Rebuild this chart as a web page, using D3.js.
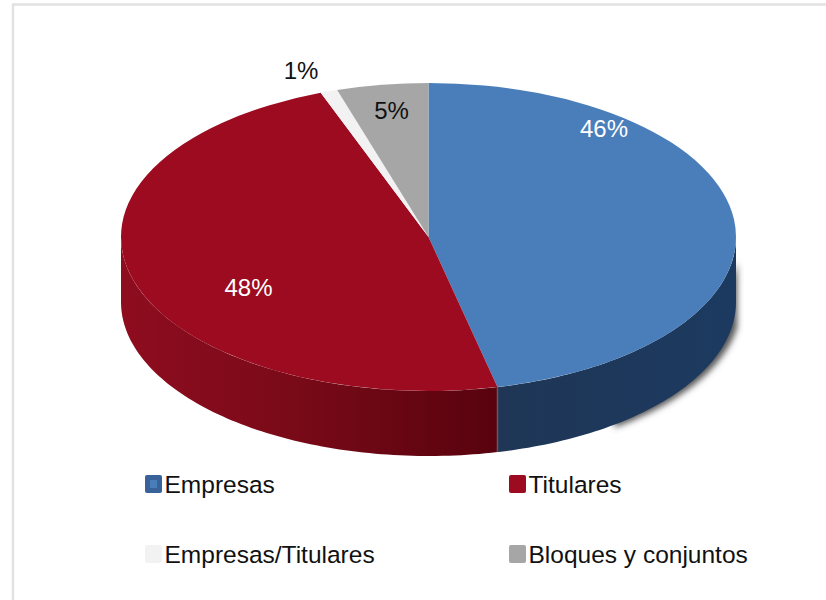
<!DOCTYPE html>
<html>
<head>
<meta charset="utf-8">
<script src="https://cdn.jsdelivr.net/npm/d3@7"></script>
<style>
  html, body { margin: 0; padding: 0; background: #fff; }
  text { font-family: "Liberation Sans", Arial, sans-serif; }
</style>
</head>
<body>
<div id="chart"></div>
<script>
const categories = ["Empresas", "Titulares", "Empresas/Titulares", "Bloques y conjuntos"];
const values = [46.4, 47.9, 0.9, 4.8];
const valueLabels = ["46%", "48%", "1%", "5%"];
const topColors = ["#4a7ebb", "#9c0b20", "#f2f2f2", "#a6a6a6"];
const legendColors = ["#386299", "#9c0b20", "#f2f2f2", "#a6a6a6"];
const labelColors = ["#fff", "#fff", "#111", "#111"];

const width = 826;
const height = 600;
const cx = 428.5;
const cy = 237;
const rx = 307.5;
const ry = 154;
const depth = 65;

const svg = d3.select("#chart")
  .append("svg")
  .attr("width", width)
  .attr("height", height)
  .style("display", "block");

const defs = svg.append("defs");

defs.append("filter")
  .attr("id", "soft")
  .attr("x", "-5%").attr("y", "-5%")
  .attr("width", "110%").attr("height", "110%")
  .append("feGaussianBlur")
  .attr("stdDeviation", 3);

// side wall gradients, left to right
const redWall = defs.append("linearGradient").attr("id", "wall-1");
redWall.append("stop").attr("offset", "0%").attr("stop-color", "#8e0d1f");
redWall.append("stop").attr("offset", "45%").attr("stop-color", "#7a0a18");
redWall.append("stop").attr("offset", "100%").attr("stop-color", "#58030e");

const blueWall = defs.append("linearGradient").attr("id", "wall-0");
blueWall.append("stop").attr("offset", "0%").attr("stop-color", "#1f3656");
blueWall.append("stop").attr("offset", "100%").attr("stop-color", "#1c3a60");

// frame of the original picture
svg.append("path")
  .attr("d", `M13,${height}V4.5H${width}`)
  .attr("fill", "none")
  .attr("stroke", "#e2e2e2")
  .attr("stroke-width", 2.5);

const pie = d3.pie().sort(null).value(d => d);
const slices = pie(values);

const x = a => cx + rx * Math.sin(a);
const y = a => cy - ry * Math.cos(a);

function wallPath(a0, a1) {
  const start = Math.max(a0, Math.PI / 2);
  const end = Math.min(a1, Math.PI * 1.5);
  if (end <= start) return null;
  const steps = d3.range(start, end, 0.02).concat(end);
  const rim = steps.map(a => [x(a), y(a)]);
  const lower = steps.slice().reverse().map(a => [x(a), y(a) + depth]);
  return d3.line()(rim.concat(lower)) + "Z";
}

// soft shadow on the lower right edge
svg.append("path")
  .attr("d", wallPath(Math.PI * 0.55, Math.PI * 0.8))
  .attr("transform", "translate(5,1)")
  .attr("fill", "#555")
  .attr("filter", "url(#soft)");

svg.append("g")
  .selectAll("path")
  .data(slices.filter(d => wallPath(d.startAngle, d.endAngle)))
  .enter()
  .append("path")
  .attr("d", d => wallPath(d.startAngle, d.endAngle))
  .attr("fill", d => `url(#wall-${d.index})`);

// seam between the two walls
svg.append("line")
  .attr("x1", x(slices[0].endAngle)).attr("x2", x(slices[0].endAngle))
  .attr("y1", y(slices[0].endAngle)).attr("y2", y(slices[0].endAngle) + depth)
  .attr("stroke", "#6b5560")
  .attr("stroke-width", 1.5);

const arc = d3.arc().innerRadius(0).outerRadius(rx);

svg.append("g")
  .attr("transform", `translate(${cx},${cy}) scale(1,${ry / rx})`)
  .selectAll("path")
  .data(slices)
  .enter()
  .append("path")
  .attr("d", arc)
  .attr("fill", (d, i) => topColors[i]);

// value labels
const labelPos = [[604, 129], [248.5, 288], [301, 71], [391.5, 111]];
svg.append("g")
  .selectAll("text")
  .data(valueLabels)
  .enter()
  .append("text")
  .attr("x", (d, i) => labelPos[i][0])
  .attr("y", (d, i) => labelPos[i][1])
  .attr("dy", "0.35em")
  .attr("text-anchor", "middle")
  .attr("font-size", 24)
  .attr("fill", (d, i) => labelColors[i])
  .text(d => d);

// legend, two rows of two
const legendX = [145, 509];
const legendY = [484, 554];
const legend = svg.append("g")
  .selectAll("g")
  .data(categories)
  .enter()
  .append("g")
  .attr("transform", (d, i) => `translate(${legendX[i % 2]},${legendY[Math.floor(i / 2)]})`);

legend.append("rect")
  .attr("x", 0).attr("y", -9)
  .attr("width", 17).attr("height", 18)
  .attr("rx", 2)
  .attr("fill", (d, i) => legendColors[i]);

legend.filter((d, i) => i === 0)
  .append("rect")
  .attr("x", 5).attr("y", -4)
  .attr("width", 7).attr("height", 8)
  .attr("fill", "#4a7ebb");

legend.append("text")
  .attr("x", 19.5)
  .attr("y", 0)
  .attr("dy", "0.35em")
  .attr("font-size", 24.5)
  .attr("fill", "#111")
  .text(d => d);
</script>
</body>
</html>
